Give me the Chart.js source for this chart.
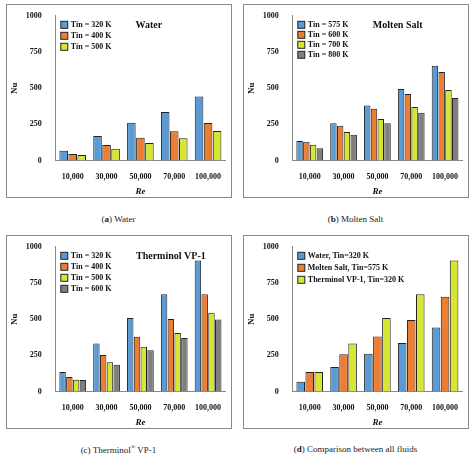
<!DOCTYPE html><html><head><meta charset="utf-8">
<script src="https://cdn.jsdelivr.net/npm/chart.js@4"></script>
<style>
body{margin:0;background:#fff;width:474px;height:460px;position:relative;font-family:"Liberation Serif",serif}
.box{position:absolute;width:226px;height:194px;border:1px solid #888;box-sizing:border-box}
.cap{position:absolute;width:237px;text-align:center;font-size:9px;color:#222}
canvas{display:block}
</style></head><body>
<div class="box" style="left:6px;top:4px"><canvas id="c0" width="224" height="192"></canvas></div>
<div class="box" style="left:243px;top:4px"><canvas id="c1" width="224" height="192"></canvas></div>
<div class="box" style="left:6px;top:235px"><canvas id="c2" width="224" height="192"></canvas></div>
<div class="box" style="left:243px;top:235px"><canvas id="c3" width="224" height="192"></canvas></div>
<div class="cap" style="left:0;top:214px">(<b>a</b>) Water</div>
<div class="cap" style="left:237px;top:214px">(<b>b</b>) Molten Salt</div>
<div class="cap" style="left:0;top:444px">(c) Therminol<sup style="font-size:6px">®</sup> VP-1</div>
<div class="cap" style="left:237px;top:444px">(<b>d</b>) Comparison between all fluids</div>
<script>
const categories=["10,000","30,000","50,000","70,000","100,000"];
const yTicks=[0,250,500,750,1000];
const water320=[68,170,262,335,443];
const water400=[45,108,157,202,260];
const water500=[38,82,122,155,205];
const salt575=[135,258,380,495,655];
const salt600=[130,240,358,460,612];
const salt700=[110,197,288,370,487];
const salt800=[85,178,258,330,433];
const vp320=[135,333,508,672,905];
const vp400=[100,253,378,502,672];
const vp500=[82,203,310,405,545];
const vp600=[80,185,285,370,498];
const BLUE="#5b9bd5",ORANGE="#ed7d31",YEL="#d6e632",GRAY="#7f7f7f";
const F="'Liberation Serif',serif";
const overlay={id:'overlay',afterDraw(ch){
  const o=ch.options.plugins.overlay,ctx=ch.ctx,a=ch.chartArea;
  ctx.save();ctx.textBaseline='middle';
  if(o.title){ctx.font="bold 10px "+F;ctx.fillStyle='#111';ctx.textAlign='center';ctx.fillText(o.title,a.left+a.width*o.tx,a.top+10);}
  ctx.font="bold 8px "+F;ctx.textAlign='left';
  ch.data.datasets.forEach((d,i)=>{const y=a.top+9+i*o.gap,x=a.left+5;
    ctx.fillStyle=d.backgroundColor;ctx.fillRect(x,y-3.5,7,7);ctx.strokeStyle='#222';ctx.lineWidth=1;ctx.strokeRect(x,y-3.5,7,7);
    ctx.fillStyle='#111';ctx.fillText(d.label,x+10,y);});
  ctx.restore();}};
function mk(id,title,tx,gap,sets){
  new Chart(document.getElementById(id),{type:'bar',
    data:{labels:categories,datasets:sets.map(s=>({label:s[0],data:s[1],backgroundColor:s[2],borderColor:'#222',borderWidth:1,categoryPercentage:0.8,barPercentage:0.95}))},
    options:{responsive:false,animation:false,layout:{padding:{top:4,right:6,left:2,bottom:0}},
      plugins:{legend:{display:false},tooltip:{enabled:false},overlay:{title,tx,gap}},
      scales:{x:{grid:{display:false,drawTicks:true},border:{color:'#888'},ticks:{color:'#111',font:{family:F,size:8,weight:'bold'},maxRotation:0,autoSkip:false,padding:4},
          title:{display:true,text:'Re',color:'#111',padding:0,font:{family:F,size:9,style:'italic',weight:'bold'}}},
        y:{min:0,max:1000,afterBuildTicks(s){s.ticks=yTicks.map(v=>({value:v}))},grid:{display:false},border:{color:'#888'},
          ticks:{color:'#111',font:{family:F,size:8,weight:'bold'},padding:6,callback:v=>String(v)},
          title:{display:true,text:'Nu',color:'#111',padding:0,font:{family:F,size:9,weight:'bold'}}}}},
    plugins:[overlay]});
}
mk('c0','Water',0.55,11,[["Tin = 320 K",water320,BLUE],["Tin = 400 K",water400,ORANGE],["Tin = 500 K",water500,YEL]]);
mk('c1','Molten Salt',0.62,10,[["Tin = 575 K",salt575,BLUE],["Tin = 600 K",salt600,ORANGE],["Tin = 700 K",salt700,YEL],["Tin = 800 K",salt800,GRAY]]);
mk('c2','Therminol VP-1',0.68,11,[["Tin = 320 K",vp320,BLUE],["Tin = 400 K",vp400,ORANGE],["Tin = 500 K",vp500,YEL],["Tin = 600 K",vp600,GRAY]]);
mk('c3','',0.5,12,[["Water, Tin=320 K",water320,BLUE],["Molten Salt, Tin=575 K",salt575,ORANGE],["Therminol VP-1, Tin=320 K",vp320,YEL]]);
</script></body></html>
